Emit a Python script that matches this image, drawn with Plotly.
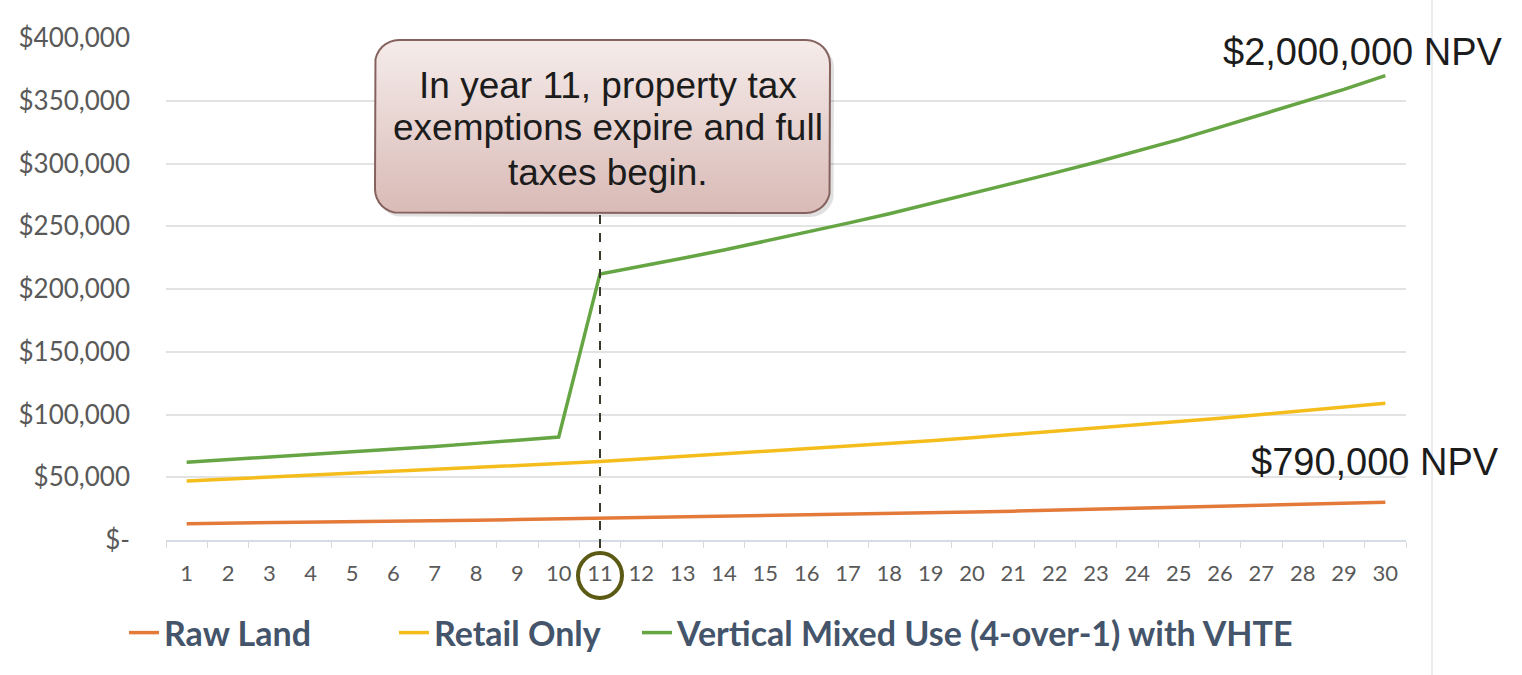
import math
import plotly.graph_objects as go

# ---------------- data ----------------
years = [str(y) for y in range(1, 31)]
raw_land = [13000, 13300, 13700, 14100, 14500, 15000, 15400, 15800, 16300, 16800,
            17300, 17800, 18300, 18800, 19400, 20000, 20500, 21100, 21800, 22400,
            23000, 23700, 24400, 25200, 25900, 26700, 27500, 28300, 29100, 30000]
retail_only = [47000, 48500, 50000, 51500, 53000, 54500, 56000, 57500, 59000, 61000,
               62500, 64500, 66500, 68500, 70500, 72500, 74500, 77000, 79000, 81500,
               84000, 86500, 89000, 91500, 94000, 97000, 100000, 103000, 106000, 109000]
vertical_mixed = [62000, 64000, 66000, 68000, 70000, 72000, 74500, 77000, 79500, 82000,
                  212000, 218000, 224500, 231000, 238000, 245000, 252500, 260000, 268000, 276000,
                  284000, 292500, 301000, 310000, 319000, 329000, 339000, 349000, 359000, 370000]
series_names = ["Raw Land", "Retail Only", "Vertical Mixed Use (4-over-1) with VHTE"]
y_tickvals = [0, 50000, 100000, 150000, 200000, 250000, 300000, 350000, 400000]
y_ticktext = ["$-", "$50,000", "$100,000", "$150,000", "$200,000", "$250,000",
              "$300,000", "$350,000", "$400,000"]
callout_lines = ["In year 11, property tax", "exemptions expire and full", "taxes begin."]
npv_high = "$2,000,000 NPV"
npv_low = "$790,000 NPV"
highlight_year = "11"

# ---------------- layout geometry ----------------
W, H = 1522, 675
ML, MR, MT, MB = 166, 116, 38, 135
PW, PH = W - ML - MR, H - MT - MB


def px(x):
    return (x - ML) / PW


def py(y):
    return (H - MB - y) / PH


def rounded_outline(x0, y0, x1, y1, r, n=8):
    """Outline of a rounded rectangle in paper coordinates (pixel inputs)."""
    pts = []
    corners = [(x1 - r, y0 + r, -90, 0), (x1 - r, y1 - r, 0, 90),
               (x0 + r, y1 - r, 90, 180), (x0 + r, y0 + r, 180, 270)]
    for cx, cy, a0, a1 in corners:
        for i in range(n + 1):
            a = math.radians(a0 + (a1 - a0) * i / n)
            pts.append((px(cx + r * math.cos(a)), py(cy + r * math.sin(a))))
    pts.append(pts[0])
    return [p[0] for p in pts], [p[1] for p in pts]


colors = ["#E47A3A", "#F4BD1C", "#66A543"]
fig = go.Figure()
legend_ids = ["legend", "legend2", "legend3"]
for name, vals, c, lg in zip(series_names, [raw_land, retail_only, vertical_mixed], colors, legend_ids):
    fig.add_trace(go.Scatter(x=years, y=vals, mode="lines", name=name,
                             line=dict(color=c, width=3.5), legend=lg, hoverinfo="skip"))

# callout box on an overlay paper-like axis pair (gradient fill)
sx, sy = rounded_outline(378, 44, 834, 217, 24)
fig.add_trace(go.Scatter(x=sx, y=sy, xaxis="x2", yaxis="y2", mode="lines", fill="toself",
                         fillcolor="rgba(0,0,0,0.12)", line=dict(width=0),
                         showlegend=False, hoverinfo="skip"))
bx, by = rounded_outline(375, 40, 830, 213, 24)
fig.add_trace(go.Scatter(x=bx, y=by, xaxis="x2", yaxis="y2", mode="lines", fill="toself",
                         fillgradient=dict(type="vertical",
                                           colorscale=[[0, "#D9BAB6"], [1, "#F5ECEA"]]),
                         line=dict(color="#86625E", width=2),
                         showlegend=False, hoverinfo="skip"))

shapes = []
idx = years.index(highlight_year)
x11 = (idx + 0.5) / len(years)
shapes.append(dict(type="line", xref="paper", yref="paper", x0=x11, x1=x11,
                   y0=py(215), y1=py(554), line=dict(color="#3a3a2a", width=2, dash="dash"),
                   layer="above"))
cx = ML + x11 * PW
shapes.append(dict(type="circle", xref="paper", yref="paper",
                   x0=px(cx - 22), x1=px(cx + 22), y0=py(598), y1=py(553),
                   line=dict(color="#5B5A14", width=4)))
shapes.append(dict(type="line", xref="paper", yref="paper", x0=px(1432), x1=px(1432),
                   y0=py(0), y1=py(675), line=dict(color="#E6E6E6", width=1.5)))

txt_font = dict(family="Liberation Sans, Arial", size=37, color="#1c1c1c")
annotations = []
for line, yy in zip(callout_lines, [85, 128, 172]):
    annotations.append(dict(text=line, xref="paper", yref="paper", x=px(608), y=py(yy),
                            xanchor="center", yanchor="middle", showarrow=False, font=txt_font))
annotations.append(dict(text=npv_high, xref="paper", yref="paper", x=px(1221), y=py(52),
                        xanchor="left", yanchor="middle", showarrow=False,
                        font=dict(family="Liberation Sans, Arial", size=38, color="#1c1c1c")))
annotations.append(dict(text=npv_low, xref="paper", yref="paper", x=px(1249), y=py(462),
                        xanchor="left", yanchor="middle", showarrow=False,
                        font=dict(family="Liberation Sans, Arial", size=38, color="#1c1c1c")))

leg_font = dict(family="Lato", size=34, color="#44546A", weight="bold")
leg_common = dict(orientation="h", yanchor="middle", y=py(633), xanchor="left",
                  font=leg_font, bgcolor="rgba(0,0,0,0)", borderwidth=0)

fig.update_layout(
    width=W, height=H,
    margin=dict(l=ML, r=MR, t=MT, b=MB),
    paper_bgcolor="white", plot_bgcolor="white",
    showlegend=True,
    xaxis=dict(type="category", showgrid=False, showline=True, linecolor="#D6DCE5",
               linewidth=1.5, ticks="outside", tickson="boundaries", ticklen=6,
               tickcolor="#D9D9D9", ticklabelstandoff=13,
               tickfont=dict(family="Lato", size=22, color="#595959"),
               range=[-0.5, 29.5], fixedrange=True),
    yaxis=dict(range=[0, 400000], tickvals=y_tickvals, ticktext=y_ticktext,
               showgrid=True, gridcolor="#E3E3E3", gridwidth=1.5, zeroline=False,
               showline=False, ticks="", ticklabelstandoff=35,
               tickfont=dict(family="Lato", size=26, color="#595959")),
    xaxis2=dict(overlaying="x", anchor="y2", range=[0, 1], visible=False, fixedrange=True),
    yaxis2=dict(overlaying="y", anchor="x2", range=[0, 1], visible=False, fixedrange=True),
    legend=dict(x=px(124), **leg_common),
    legend2=dict(x=px(394), **leg_common),
    legend3=dict(x=px(637), **leg_common),
    shapes=shapes,
    annotations=annotations,
)

fig.write_html("out.html")
